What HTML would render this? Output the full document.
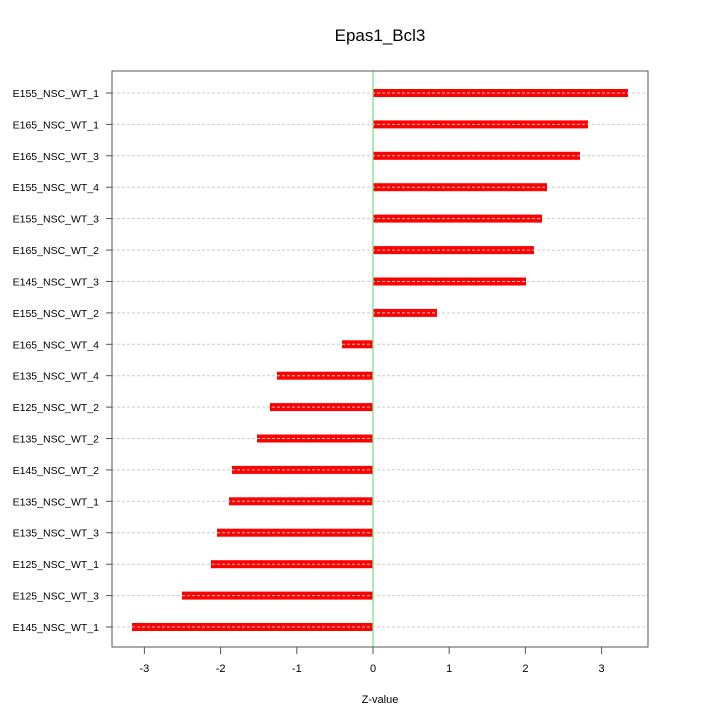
<!DOCTYPE html>
<html><head><style>body{margin:0;background:#fff}svg{display:block}</style></head><body>
<svg width="720" height="720" xmlns="http://www.w3.org/2000/svg" font-family="Liberation Sans, sans-serif">
<text x="380" y="41" font-size="17" text-anchor="middle">Epas1_Bcl3</text>
<g fill="#ff0000">
<rect x="373" y="89" width="255" height="8"/>
<rect x="373" y="120.4" width="215" height="8"/>
<rect x="373" y="151.8" width="207" height="8"/>
<rect x="373" y="183.2" width="174" height="8"/>
<rect x="373" y="214.6" width="169" height="8"/>
<rect x="373" y="246.1" width="161" height="8"/>
<rect x="373" y="277.5" width="153" height="8"/>
<rect x="373" y="308.9" width="64" height="8"/>
<rect x="342" y="340.3" width="31" height="8"/>
<rect x="277" y="371.7" width="96" height="8"/>
<rect x="270" y="403.1" width="103" height="8"/>
<rect x="257" y="434.5" width="116" height="8"/>
<rect x="232" y="465.9" width="141" height="8"/>
<rect x="229" y="497.3" width="144" height="8"/>
<rect x="217" y="528.7" width="156" height="8"/>
<rect x="211" y="560.2" width="162" height="8"/>
<rect x="182" y="591.6" width="191" height="8"/>
<rect x="132" y="623" width="241" height="8"/>
</g>
<g stroke="#cccccc" stroke-dasharray="3,2">
<line x1="112" x2="648" y1="93" y2="93"/><line x1="112" x2="648" y1="124.4" y2="124.4"/><line x1="112" x2="648" y1="155.8" y2="155.8"/><line x1="112" x2="648" y1="187.2" y2="187.2"/><line x1="112" x2="648" y1="218.6" y2="218.6"/><line x1="112" x2="648" y1="250.1" y2="250.1"/><line x1="112" x2="648" y1="281.5" y2="281.5"/><line x1="112" x2="648" y1="312.9" y2="312.9"/><line x1="112" x2="648" y1="344.3" y2="344.3"/><line x1="112" x2="648" y1="375.7" y2="375.7"/><line x1="112" x2="648" y1="407.1" y2="407.1"/><line x1="112" x2="648" y1="438.5" y2="438.5"/><line x1="112" x2="648" y1="469.9" y2="469.9"/><line x1="112" x2="648" y1="501.3" y2="501.3"/><line x1="112" x2="648" y1="532.7" y2="532.7"/><line x1="112" x2="648" y1="564.2" y2="564.2"/><line x1="112" x2="648" y1="595.6" y2="595.6"/><line x1="112" x2="648" y1="627" y2="627"/>
</g>
<g stroke="#555">
<line x1="106" x2="112" y1="93" y2="93"/><line x1="106" x2="112" y1="124.4" y2="124.4"/><line x1="106" x2="112" y1="155.8" y2="155.8"/><line x1="106" x2="112" y1="187.2" y2="187.2"/><line x1="106" x2="112" y1="218.6" y2="218.6"/><line x1="106" x2="112" y1="250.1" y2="250.1"/><line x1="106" x2="112" y1="281.5" y2="281.5"/><line x1="106" x2="112" y1="312.9" y2="312.9"/><line x1="106" x2="112" y1="344.3" y2="344.3"/><line x1="106" x2="112" y1="375.7" y2="375.7"/><line x1="106" x2="112" y1="407.1" y2="407.1"/><line x1="106" x2="112" y1="438.5" y2="438.5"/><line x1="106" x2="112" y1="469.9" y2="469.9"/><line x1="106" x2="112" y1="501.3" y2="501.3"/><line x1="106" x2="112" y1="532.7" y2="532.7"/><line x1="106" x2="112" y1="564.2" y2="564.2"/><line x1="106" x2="112" y1="595.6" y2="595.6"/><line x1="106" x2="112" y1="627" y2="627"/>
<line x1="144.4" x2="144.4" y1="647" y2="654"/><line x1="220.6" x2="220.6" y1="647" y2="654"/><line x1="296.8" x2="296.8" y1="647" y2="654"/><line x1="373" x2="373" y1="647" y2="654"/><line x1="449.2" x2="449.2" y1="647" y2="654"/><line x1="525.4" x2="525.4" y1="647" y2="654"/><line x1="601.6" x2="601.6" y1="647" y2="654"/>
</g>
<g font-size="10.5" text-anchor="end">
<text x="99" y="97">E155_NSC_WT_1</text><text x="99" y="128.4">E165_NSC_WT_1</text><text x="99" y="159.8">E165_NSC_WT_3</text><text x="99" y="191.2">E155_NSC_WT_4</text><text x="99" y="222.6">E155_NSC_WT_3</text><text x="99" y="254.1">E165_NSC_WT_2</text><text x="99" y="285.5">E145_NSC_WT_3</text><text x="99" y="316.9">E155_NSC_WT_2</text><text x="99" y="348.3">E165_NSC_WT_4</text><text x="99" y="379.7">E135_NSC_WT_4</text><text x="99" y="411.1">E125_NSC_WT_2</text><text x="99" y="442.5">E135_NSC_WT_2</text><text x="99" y="473.9">E145_NSC_WT_2</text><text x="99" y="505.3">E135_NSC_WT_1</text><text x="99" y="536.7">E135_NSC_WT_3</text><text x="99" y="568.2">E125_NSC_WT_1</text><text x="99" y="599.6">E125_NSC_WT_3</text><text x="99" y="631">E145_NSC_WT_1</text>
</g>
<g font-size="11" text-anchor="middle">
<text x="144.4" y="672">-3</text><text x="220.6" y="672">-2</text><text x="296.8" y="672">-1</text><text x="373" y="672">0</text><text x="449.2" y="672">1</text><text x="525.4" y="672">2</text><text x="601.6" y="672">3</text>
</g>
<line x1="373" x2="373" y1="71" y2="647" stroke="#7fe07f" stroke-width="1.3"/>
<rect x="112" y="71" width="536" height="576" fill="none" stroke="#555" stroke-width="1"/>
<text x="380" y="703" font-size="11" text-anchor="middle">Z-value</text>
</svg>
</body></html>
